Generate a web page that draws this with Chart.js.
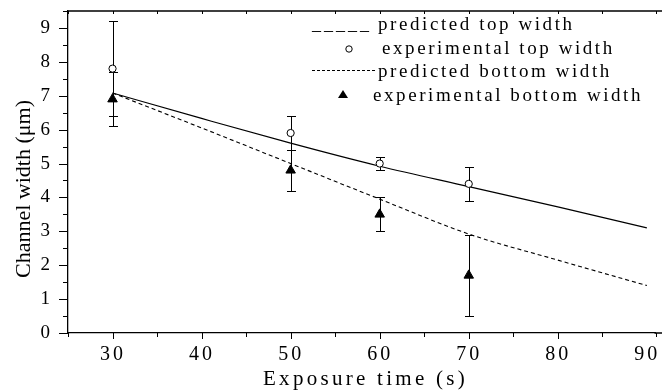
<!DOCTYPE html>
<html>
<head>
<meta charset="utf-8">
<script src="https://cdn.jsdelivr.net/npm/chart.js@4.4.1/dist/chart.umd.min.js"></script>
<style>
body { margin: 0; background: #fff; }
#wrap { width: 662px; height: 391px; position: relative; }
</style>
</head>
<body>
<div id="wrap"><canvas id="chart"></canvas></div>
<script>
// measured points (exposure time, width, error)
const timeX = [30, 50, 60, 70];
const topMeas = [7.8, 5.9, 5.0, 4.4];
const topErr = [1.4, 0.5, 0.2, 0.5];
const botMeas = [6.9, 4.8, 3.5, 1.7];
const botErr = [0.8, 0.6, 0.5, 1.2];

// model curves
const predX = [30, 40, 50, 60, 70, 80, 90];
const predTop = [7.08, 6.33, 5.6, 4.92, 4.32, 3.72, 3.1];
const predBot = [7.08, 6.05, 5.0, 3.95, 2.92, 2.15, 1.4];

const xTickLabels = [30, 40, 50, 60, 70, 80, 90];
const yTickLabels = [0, 1, 2, 3, 4, 5, 6, 7, 8, 9];
const legendLabels = ['predicted top width', 'experimental top width', 'predicted bottom width', 'experimental bottom width'];

const SERIF = '"Liberation Serif", "Times New Roman", serif';

// wanted plot box (px) and x range shown in it
const AREA = { left: 68, top: 11, right: 662, bottom: 333 };
const X_MIN = 25, X_MAX = 91.7;

function pts(xs, ys) {
    return xs.map((x, i) => ({ x: x, y: ys[i] }));
}

// error bars under the markers
const errorBars = {
    id: 'errorBars',
    beforeDatasetsDraw(chart) {
        const ctx = chart.ctx, xs = chart.scales.x, ys = chart.scales.y;
        ctx.save();
        ctx.strokeStyle = '#000';
        ctx.lineWidth = 1;
        [[topMeas, topErr], [botMeas, botErr]].forEach(([vals, errs]) => {
            vals.forEach((v, i) => {
                const px = Math.round(xs.getPixelForValue(timeX[i])) + 0.5;
                const y1 = Math.round(ys.getPixelForValue(v + errs[i])) + 0.5;
                const y2 = Math.round(ys.getPixelForValue(v - errs[i])) + 0.5;
                ctx.beginPath();
                ctx.moveTo(px, y1); ctx.lineTo(px, y2);
                ctx.moveTo(px - 4.5, y1); ctx.lineTo(px + 4.5, y1);
                ctx.moveTo(px - 4.5, y2); ctx.lineTo(px + 4.5, y2);
                ctx.stroke();
            });
        });
        ctx.restore();
    }
};

// ticks, frame lines, x labels, axis titles, legend
const decorations = {
    id: 'decorations',
    afterDraw(chart) {
        const ctx = chart.ctx, xs = chart.scales.x, ys = chart.scales.y;
        const a = chart.chartArea;
        const right = Math.max(a.right, AREA.right);
        ctx.save();
        ctx.strokeStyle = '#000';
        ctx.fillStyle = '#000';
        ctx.lineWidth = 1.3;

        // top frame line, and bottom axis carried to the edge
        ctx.beginPath();
        ctx.moveTo(a.left, a.top); ctx.lineTo(right, a.top);
        ctx.moveTo(a.right - 1, a.bottom); ctx.lineTo(right, a.bottom);
        ctx.stroke();

        ctx.lineWidth = 1;
        // y ticks (outward)
        ys.ticks.forEach(t => {
            const py = Math.round(ys.getPixelForValue(t.value)) + 0.5;
            const len = Number.isInteger(t.value) ? 9 : 5;
            ctx.beginPath();
            ctx.moveTo(a.left - len, py); ctx.lineTo(a.left, py);
            ctx.stroke();
        });
        // x ticks bottom (outward) and top (inward)
        xs.ticks.forEach(t => {
            const px = Math.round(xs.getPixelForValue(t.value)) + 0.5;
            const major = t.value % 10 === 0;
            ctx.beginPath();
            ctx.moveTo(px, a.bottom); ctx.lineTo(px, a.bottom + (major ? 6 : 4));
            ctx.moveTo(px, a.top); ctx.lineTo(px, a.top + 3);
            ctx.stroke();
        });

        // x tick labels
        ctx.font = '20px ' + SERIF;
        ctx.letterSpacing = '3px';
        ctx.textAlign = 'center';
        ctx.textBaseline = 'alphabetic';
        xTickLabels.forEach(v => {
            ctx.fillText(String(v), xs.getPixelForValue(v) + 0.5, 360);
        });

        // x title
        ctx.font = '21px ' + SERIF;
        ctx.letterSpacing = '0px';
        const xt = 'Exposure time (s)';
        const nat = ctx.measureText(xt).width;
        ctx.letterSpacing = ((205 - nat) / xt.length).toFixed(2) + 'px';
        ctx.textAlign = 'left';
        ctx.fillText(xt, 263, 385);

        // y title
        ctx.letterSpacing = '0px';
        ctx.save();
        ctx.translate(24, 189);
        ctx.rotate(-Math.PI / 2);
        ctx.textAlign = 'center';
        ctx.textBaseline = 'middle';
        ctx.font = '22px ' + SERIF;
        ctx.fillText('Channel width (\u03bcm)', 0, 0);
        ctx.restore();

        // legend
        ctx.font = '19px ' + SERIF;
        ctx.textAlign = 'left';
        ctx.textBaseline = 'alphabetic';
        ctx.letterSpacing = '0px';
        const n4 = ctx.measureText(legendLabels[3]).width;
        const sp = (270 - n4) / legendLabels[3].length;
        ctx.letterSpacing = sp.toFixed(2) + 'px';
        const rows = [30, 54, 77, 101];
        const textX = [378, 382, 378, 373];
        legendLabels.forEach((s, i) => ctx.fillText(s, textX[i], rows[i]));

        // sample 1: solid-line key written as underscores
        ctx.font = '18px ' + SERIF;
        ctx.letterSpacing = '3px';
        ctx.fillText('_____', 312, rows[0]);
        ctx.letterSpacing = '0px';
        // sample 2: open circle
        ctx.beginPath();
        ctx.arc(349, rows[1] - 5, 3.2, 0, Math.PI * 2);
        ctx.fillStyle = '#fff';
        ctx.fill();
        ctx.stroke();
        ctx.fillStyle = '#000';
        // sample 3: short dashes
        ctx.setLineDash([3, 2]);
        ctx.beginPath();
        ctx.moveTo(312, rows[2] - 6.5); ctx.lineTo(377, rows[2] - 6.5);
        ctx.stroke();
        ctx.setLineDash([]);
        // sample 4: filled triangle
        ctx.beginPath();
        ctx.moveTo(343, rows[3] - 11);
        ctx.lineTo(348, rows[3] - 3);
        ctx.lineTo(338, rows[3] - 3);
        ctx.closePath();
        ctx.fill();

        ctx.restore();
    }
};

let widthChart;

function initChart() {
    const ctx = document.getElementById('chart').getContext('2d');
    widthChart = new Chart(ctx, {
        type: 'scatter',
        data: {
            datasets: [
                {
                    label: legendLabels[0],
                    data: pts(predX, predTop),
                    showLine: true,
                    borderColor: '#000',
                    borderWidth: 1.2,
                    pointRadius: 0,
                    cubicInterpolationMode: 'monotone',
                    order: 3
                },
                {
                    label: legendLabels[1],
                    data: pts(timeX, topMeas),
                    showLine: false,
                    pointStyle: 'circle',
                    pointRadius: 3.6,
                    backgroundColor: '#fff',
                    borderColor: '#000',
                    borderWidth: 1,
                    order: 1
                },
                {
                    label: legendLabels[2],
                    data: pts(predX, predBot),
                    showLine: true,
                    borderColor: '#000',
                    borderWidth: 1.1,
                    borderDash: [4, 3],
                    pointRadius: 0,
                    cubicInterpolationMode: 'monotone',
                    order: 4
                },
                {
                    label: legendLabels[3],
                    data: pts(timeX, botMeas),
                    showLine: false,
                    pointStyle: 'triangle',
                    pointRadius: 5.5,
                    backgroundColor: '#000',
                    borderColor: '#000',
                    borderWidth: 1,
                    order: 2
                }
            ]
        },
        options: {
            responsive: true,
            maintainAspectRatio: false,
            animation: false,
            layout: { padding: { top: 11, bottom: 58, left: 0, right: 0 } },
            plugins: {
                legend: { display: false },
                tooltip: { enabled: false }
            },
            scales: {
                x: {
                    type: 'linear',
                    min: X_MIN,
                    max: X_MAX,
                    afterFit: s => {
                        s.height = 0;
                        s.paddingLeft = 0; s.paddingRight = 0;
                    },
                    ticks: { display: false, stepSize: 5 },
                    grid: { display: false, drawTicks: false },
                    border: { display: true, color: '#000', width: 1.3 }
                },
                y: {
                    min: 0,
                    max: 9.5,
                    afterFit: s => {
                        s.width = 68;
                        s.paddingTop = 0; s.paddingBottom = 0;
                    },
                    ticks: {
                        stepSize: 0.5,
                        autoSkip: false,
                        padding: 18,
                        color: '#000',
                        font: { family: SERIF, size: 19 },
                        callback: v => yTickLabels.includes(v) ? String(v) : ''
                    },
                    grid: { display: false, drawTicks: false },
                    border: { display: true, color: '#000', width: 1.3 }
                }
            }
        },
        plugins: [errorBars, decorations]
    });

    fitArea();
}

// if the layout leaves the plot box narrower than wanted, keep the
// reference's px-per-second by trimming the x max instead
function fitArea() {
    const a = widthChart.chartArea;
    const unit = (AREA.right - AREA.left) / (X_MAX - X_MIN);
    const max = X_MIN + (a.right - a.left) / unit;
    if (Math.abs(max - X_MAX) < 0.01) return;
    widthChart.config.options.scales.x.max = max;
    widthChart.update();
}

window.onload = initChart;
</script>
</body>
</html>
